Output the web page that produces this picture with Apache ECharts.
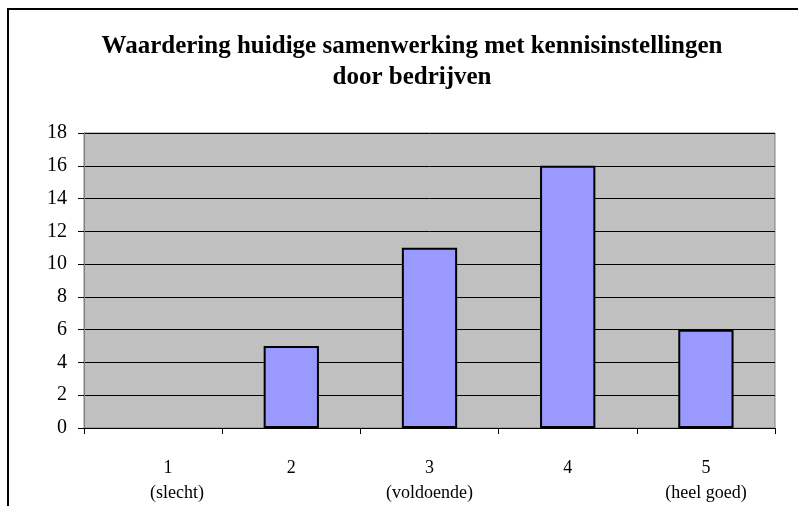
<!DOCTYPE html>
<html><head><meta charset="utf-8">
<script src="https://cdn.jsdelivr.net/npm/echarts@6/dist/echarts.min.js"></script>
<style>html,body{margin:0;padding:0;background:#fff}#c{width:798px;height:506px}</style>
</head><body><div id="c"></div>
<script>
const titleText = 'Waardering huidige samenwerking met kennisinstellingen\ndoor bedrijven';
const categories = ['1\n(slecht)', '2', '3\n(voldoende)', '4', '5\n(heel goed)'];
const values = [0, 5, 11, 16, 6];
const yTicks = { min: 0, max: 18, interval: 2 };

const chart = echarts.init(document.getElementById('c'));
const serif = '"Liberation Serif", "DejaVu Serif", serif';
const lblFont = { fontFamily: serif, fontSize: 18, color: '#000', lineHeight: 25 };
chart.setOption({
  animation: false,
  backgroundColor: '#fff',
  title: {
    text: titleText, left: 407, textAlign: 'center', top: 26,
    textStyle: { fontFamily: serif, fontWeight: 'bold', fontSize: 25, lineHeight: 31, color: '#000' }
  },
  graphic: [{
    type: 'rect', shape: { x: 8, y: 9, width: 820, height: 520 },
    style: { fill: 'none', stroke: '#000', lineWidth: 2 }, silent: true
  }],
  grid: { left: 84, right: 23, top: 133, bottom: 78, show: true, backgroundColor: '#C0C0C0', borderColor: '#808080', borderWidth: 1 },
  xAxis: {
    type: 'category', data: categories,
    axisLine: { lineStyle: { color: '#000', width: 1 } },
    axisTick: { show: true, alignWithLabel: false, length: 6, lineStyle: { color: '#000' } },
    axisLabel: Object.assign({}, lblFont, {
      margin: 28, interval: 0,
      formatter: function (v, i) {
        if (i !== 0) return v;
        const parts = v.split('\n');
        return '{a|' + parts[0] + '}\n{b|' + parts[1] + '}';
      },
      rich: {
        a: Object.assign({}, lblFont, { padding: [0, 0, 0, 30] }),
        b: Object.assign({}, lblFont, { padding: [0, 0, 0, 48] })
      }
    })
  },
  yAxis: {
    type: 'value', min: yTicks.min, max: yTicks.max, interval: yTicks.interval,
    axisLine: { show: true, lineStyle: { color: '#808080', width: 1 } },
    axisTick: { show: true, length: 6, lineStyle: { color: '#000' } },
    axisLabel: { fontFamily: serif, fontSize: 20, color: '#000', margin: 17 },
    splitLine: { lineStyle: { color: '#000', width: 1 } }
  },
  series: [{
    type: 'bar', barWidth: '40%',
    data: values.map(v => v === 0 ? { value: v, itemStyle: { borderWidth: 0 } } : v),
    itemStyle: { color: '#9999FF', borderColor: '#000', borderWidth: 2 }
  }]
});
</script></body></html>
